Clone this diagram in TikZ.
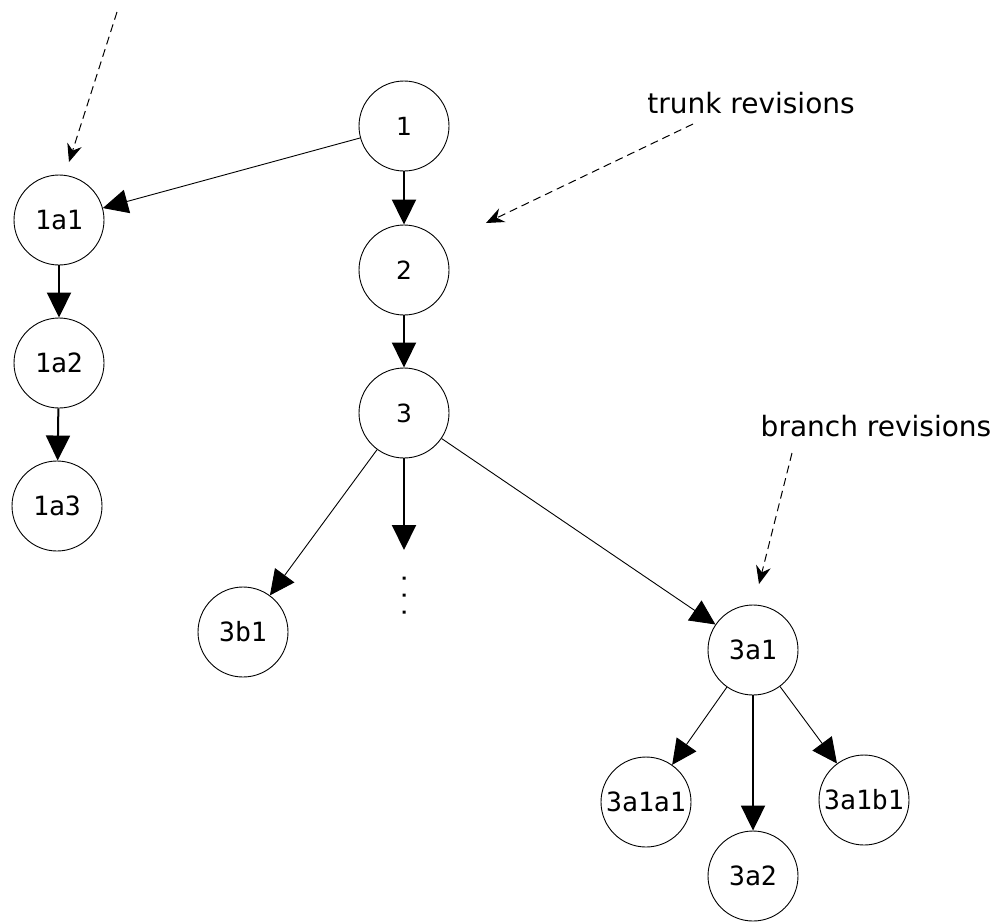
\documentclass[tikz,border=0pt]{standalone}
\usepackage{fontspec}
\usetikzlibrary{arrows.meta}
\newfontfamily\annfont{DejaVu Sans}
\newfontfamily\revmono{DejaVu Sans Mono}
\begin{document}
\begin{tikzpicture}[x=1pt,y=-1pt,
  rev/.style={draw, circle, line width=0.9pt, minimum size=90pt, inner sep=0pt, font=\revmono\fontsize{26.5}{28}\selectfont},
  trunkrev/.style={rev, font=\annfont\fontsize{25}{27}\selectfont},
  thickarr/.style={line width=2pt, -{Triangle[length=25pt,width=24pt]}},
  thinarr/.style={line width=0.9pt, -{Triangle[length=25pt,width=24pt]}},
  annarr/.style={line width=1pt, dash pattern=on 8pt off 5pt, -{Stealth[length=18pt,width=15pt,inset=6pt]}},
  anntext/.style={font=\annfont\fontsize{28}{30}\selectfont, inner sep=0pt}]
\useasboundingbox (0,0) rectangle (995,921);
% trunk
\node[trunkrev] (n1) at (404,126) {1};
\node[trunkrev] (n2) at (404,270) {2};
\node[trunkrev] (n3) at (404,413) {3};
% branch 1a
\node[rev] (n1a1) at (59,220) {1a1};
\node[rev] (n1a2) at (59,363) {1a2};
\node[rev] (n1a3) at (57,506) {1a3};
% branches of 3
\node[rev] (n3b1) at (243,632) {3b1};
\node[rev] (n3a1) at (753,650) {3a1};
\node[rev] (n3a1a1) at (646,802) {3a1a1};
\node[rev] (n3a2) at (753,876) {3a2};
\node[rev] (n3a1b1) at (864,800) {3a1b1};
\coordinate (more) at (404,550);
\fill (402.5,576.5) rectangle ++(3,3) (402.5,593.5) rectangle ++(3,3) (402.5,610.5) rectangle ++(3,3);
% connectors
\draw[thickarr] (n1) -- (n2);
\draw[thickarr] (n2) -- (n3);
\draw[thickarr] (n3) -- (more);
\draw[thinarr] (n1) -- (n1a1);
\draw[thickarr] (n1a1) -- (n1a2);
\draw[thickarr] (n1a2) -- (n1a3);
\draw[thinarr] (n3) -- (n3b1);
\draw[thinarr] (n3) -- (n3a1);
\draw[thinarr] (n3a1) -- (n3a1a1);
\draw[thickarr] (n3a1) -- (n3a2);
\draw[thinarr] (n3a1) -- (n3a1b1);
% annotations
\node[anntext, anchor=base] (trunk) at (751,113) {trunk revisions};
\node[anntext, anchor=base] (branch) at (876,436) {branch revisions};
\coordinate (topstart) at (117,12);
\coordinate (topend) at (69,162);
\coordinate (trunkstart) at (693,124);
\coordinate (trunkend) at (486,223);
\coordinate (branchstart) at (792,453);
\coordinate (branchend) at (759,584);
\draw[annarr] (topstart) -- (topend);
\draw[annarr] (trunkstart) -- (trunkend);
\draw[annarr] (branchstart) -- (branchend);
\end{tikzpicture}
\end{document}
